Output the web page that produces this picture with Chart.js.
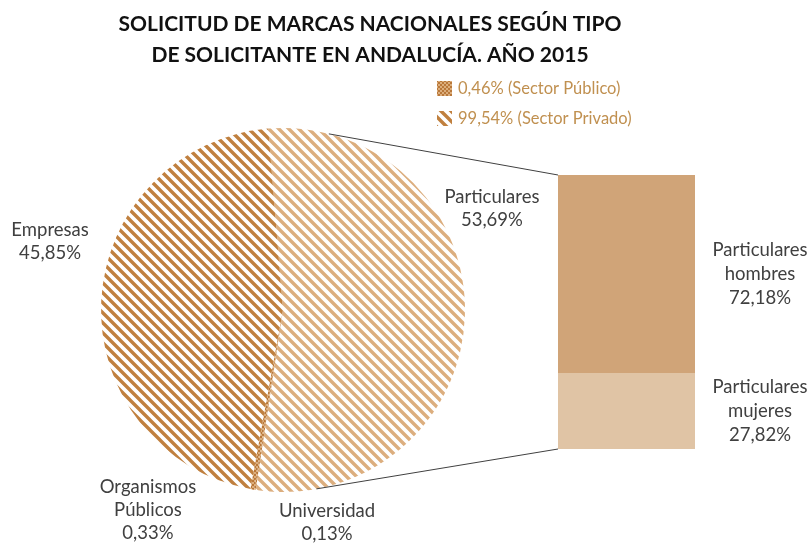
<!DOCTYPE html>
<html>
<head>
<meta charset="utf-8">
<script src="https://cdn.jsdelivr.net/npm/chart.js@4.4.1/dist/chart.umd.min.js"></script>
<style>
    body { margin: 0; background: #fff; }
    #wrap { position: relative; width: 812px; height: 544px; }
    #pieChart { position: absolute; left: 0; top: 0; }
    #barChart { position: absolute; left: 540px; top: 160px; }
</style>
</head>
<body>
<div id="wrap">
    <canvas id="pieChart" width="812" height="544"></canvas>
    <canvas id="barChart" width="272" height="300"></canvas>
</div>
<script>
const titleLines = ['SOLICITUD DE MARCAS NACIONALES SEGÚN TIPO', 'DE SOLICITANTE EN ANDALUCÍA. AÑO 2015'];
const pieLabels = ['Particulares', 'Universidad', 'Organismos Públicos', 'Empresas'];
const pieValues = [53.69, 0.13, 0.33, 45.85];
const barLabels = ['Particulares hombres', 'Particulares mujeres'];
const barValues = [72.18, 27.82];
const legendTexts = ['0,46% (Sector Público)', '99,54% (Sector Privado)'];

const FONT = 'Lato, "Open Sans", sans-serif';
const pct = v => v.toFixed(2).replace('.', ',') + '%';

// patrones de relleno (rayado y cuadriculado)
const helper = document.createElement('canvas').getContext('2d');
function stripes(color) {
    const c = document.createElement('canvas');
    c.width = c.height = 10;
    const g = c.getContext('2d');
    g.strokeStyle = color;
    g.lineWidth = 3.4;
    g.beginPath();
    g.moveTo(-5, -5); g.lineTo(15, 15);
    g.moveTo(-5, 5); g.lineTo(5, 15);
    g.moveTo(5, -5); g.lineTo(15, 5);
    g.stroke();
    return helper.createPattern(c, 'repeat');
}
function checker(bg, fg) {
    const c = document.createElement('canvas');
    c.width = c.height = 4;
    const g = c.getContext('2d');
    g.fillStyle = bg; g.fillRect(0, 0, 4, 4);
    g.fillStyle = fg; g.fillRect(0, 0, 2, 2); g.fillRect(2, 2, 2, 2);
    return helper.createPattern(c, 'repeat');
}
const lightStripes = stripes('#dcae7e');
const darkStripes = stripes('#c0803f');
const publicFill = checker('#dcae7c', '#b9783a');

// posicion de las etiquetas respecto al centro del pie (en radios)
const pieLabelPos = [[1.148, -0.555], [0.242, 1.17], [-0.742, 1.099], [-1.28, -0.374]];

const barChart = new Chart(document.getElementById('barChart'), {
    type: 'bar',
    data: {
        labels: [''],
        datasets: barLabels.map((l, i) => ({
            label: l,
            data: [barValues[i]],
            backgroundColor: i === 0 ? '#d0a478' : '#e0c4a5',
            borderWidth: 0,
            barPercentage: 1,
            categoryPercentage: 1
        }))
    },
    options: {
        responsive: false,
        animation: false,
        layout: { padding: { left: 18, right: 117, top: 15, bottom: 11 } },
        scales: {
            x: { display: false, stacked: true },
            y: { display: false, stacked: true, min: 0, max: 100, reverse: true }
        },
        plugins: { legend: { display: false }, tooltip: { enabled: false } }
    },
    plugins: [{
        id: 'barLabels',
        afterDatasetsDraw(chart) {
            const ctx = chart.ctx;
            ctx.save();
            ctx.font = '18.5px ' + FONT;
            ctx.fillStyle = '#404040';
            ctx.textAlign = 'center';
            ctx.textBaseline = 'middle';
            chart.data.datasets.forEach((ds, i) => {
                const el = chart.getDatasetMeta(i).data[0];
                const lines = ds.label.split(' ').concat(pct(ds.data[0]));
                const cy = (el.y + el.base) / 2;
                lines.forEach((t, k) => {
                    ctx.fillText(t, chart.chartArea.right + 65, cy + (k - (lines.length - 1) / 2) * 24);
                });
            });
            ctx.restore();
        }
    }]
});

const pieChart = new Chart(document.getElementById('pieChart'), {
    type: 'pie',
    data: {
        labels: pieLabels,
        datasets: [{
            data: pieValues,
            backgroundColor: [lightStripes, publicFill, publicFill, darkStripes],
            borderWidth: 0
        }]
    },
    options: {
        responsive: false,
        animation: false,
        rotation: -4.65,
        layout: { padding: { left: 101, right: 347, top: 128, bottom: 52 } },
        plugins: { legend: { display: false }, tooltip: { enabled: false } }
    },
    plugins: [{
        id: 'decor',
        afterDraw(chart) {
            const ctx = chart.ctx;
            const arc = chart.getDatasetMeta(0).data[0];
            const cx = arc.x, cy = arc.y, r = arc.outerRadius;
            ctx.save();

            // titulo
            ctx.fillStyle = '#111';
            ctx.font = 'bold 21px ' + FONT;
            ctx.textAlign = 'center';
            ctx.textBaseline = 'middle';
            titleLines.forEach((t, i) => ctx.fillText(t, 370, 24 + i * 31));

            // leyenda
            const swatches = [publicFill, stripes('#c0803f')];
            ctx.font = '16.5px ' + FONT;
            ctx.textAlign = 'left';
            legendTexts.forEach((t, i) => {
                ctx.fillStyle = swatches[i];
                ctx.fillRect(437, 81 + i * 30, 15, 15);
                ctx.fillStyle = '#c09050';
                ctx.fillText(t, 458, 89 + i * 30);
            });

            // lineas de union con la barra
            const a = (arc.startAngle + arc.endAngle) / 2;
            const spread = 77.4 * Math.PI / 180;
            const top = barChart.getDatasetMeta(0).data[0];
            const bottom = barChart.getDatasetMeta(1).data[0];
            const offX = 540, offY = 160;
            const bx = offX + top.x - top.width / 2;
            ctx.strokeStyle = '#404040';
            ctx.lineWidth = 1;
            ctx.beginPath();
            ctx.moveTo(cx + r * Math.cos(a - spread), cy + r * Math.sin(a - spread));
            ctx.lineTo(bx, offY + Math.min(top.y, top.base));
            ctx.moveTo(cx + r * Math.cos(a + spread), cy + r * Math.sin(a + spread));
            ctx.lineTo(bx, offY + Math.max(bottom.y, bottom.base));
            ctx.stroke();

            // etiquetas del pie
            ctx.font = '18.5px ' + FONT;
            ctx.fillStyle = '#404040';
            ctx.textAlign = 'center';
            pieLabels.forEach((l, i) => {
                const lines = l.split(' ').concat(pct(pieValues[i]));
                const lx = cx + pieLabelPos[i][0] * r;
                const ly = cy + pieLabelPos[i][1] * r;
                lines.forEach((t, k) => ctx.fillText(t, lx, ly + (k - (lines.length - 1) / 2) * 23));
            });
            ctx.restore();
        }
    }]
});
</script>
</body>
</html>
